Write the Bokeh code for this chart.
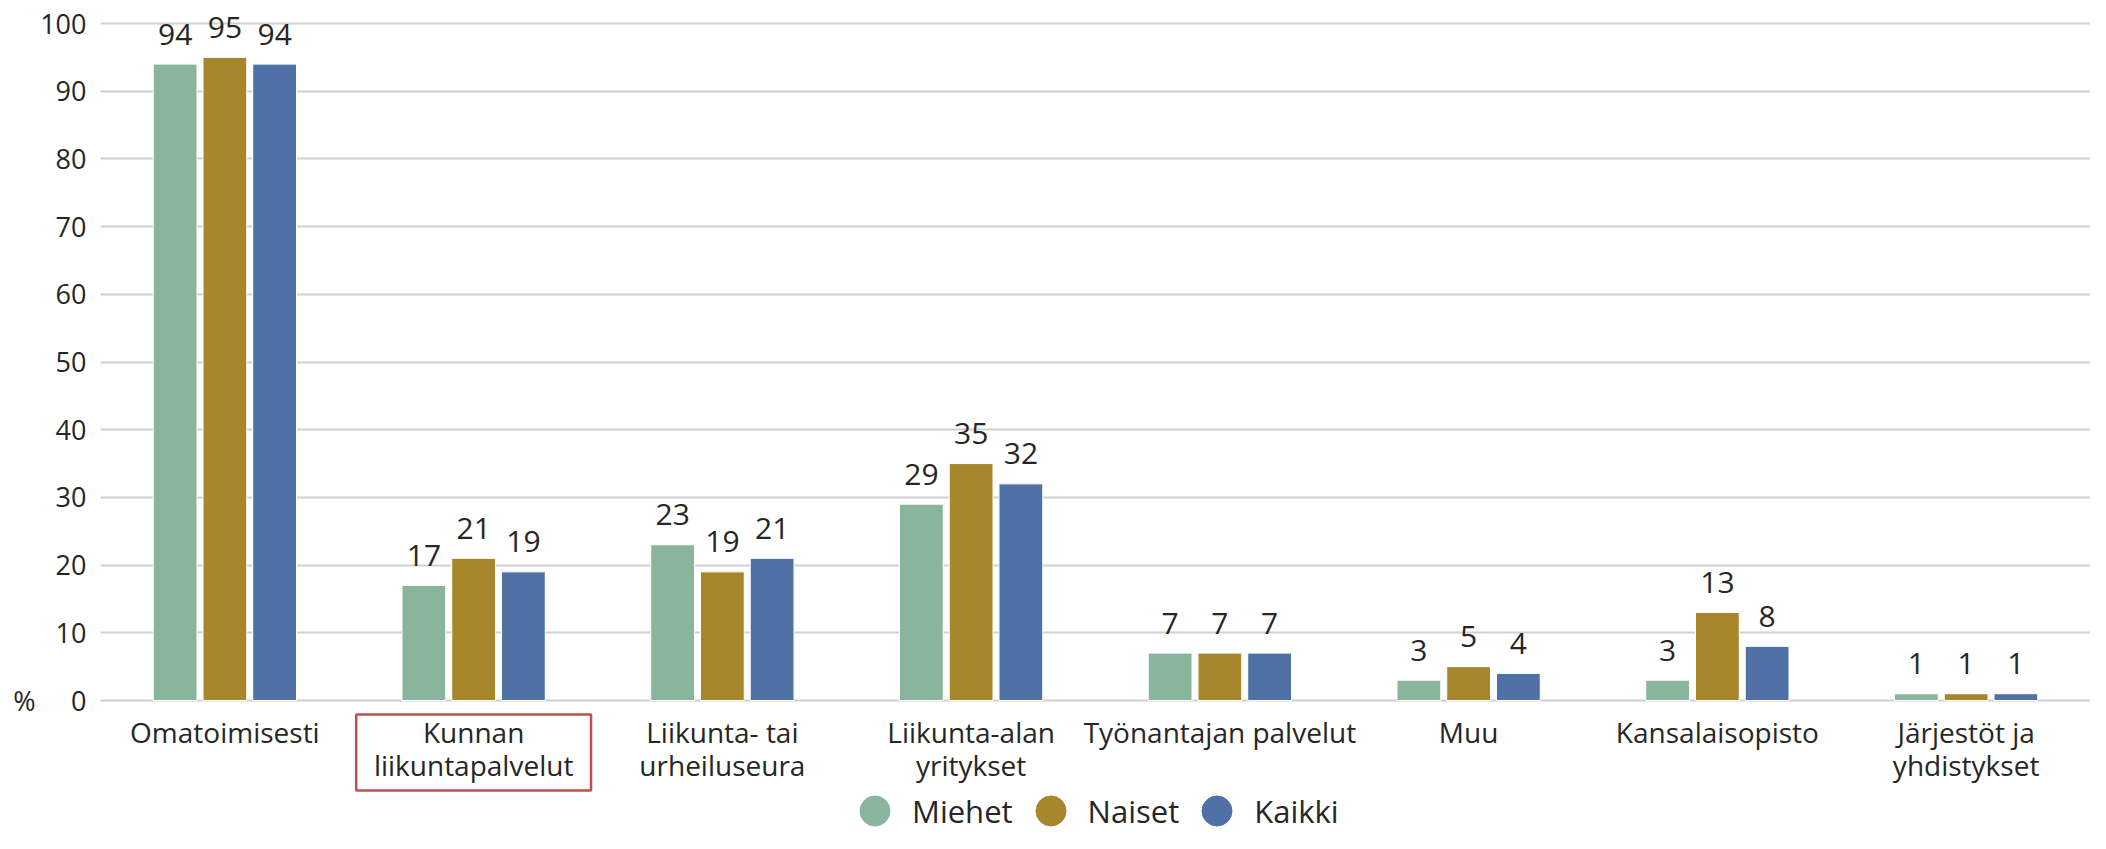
from bokeh.plotting import figure
from bokeh.models import Range1d, FixedTicker, ColumnDataSource, Legend, LegendItem, FactorRange, LinearAxis
from bokeh.core.properties import value
from bokeh.transform import dodge
from bokeh.embed import file_html
from bokeh.resources import INLINE

# ---------------- data ----------------
categories = ["Omatoimisesti", "Kunnan liikuntapalvelut", "Liikunta- tai urheiluseura",
              "Liikunta-alan yritykset", "Työnantajan palvelut", "Muu",
              "Kansalaisopisto", "Järjestöt ja yhdistykset"]
category_labels = ["Omatoimisesti", "Kunnan\nliikuntapalvelut", "Liikunta- tai\nurheiluseura",
                   "Liikunta-alan\nyritykset", "Työnantajan palvelut", "Muu",
                   "Kansalaisopisto", "Järjestöt ja\nyhdistykset"]
miehet = [94, 17, 23, 29, 7, 3, 3, 1]
naiset = [95, 21, 19, 35, 7, 5, 13, 1]
kaikki = [94, 19, 21, 32, 7, 4, 8, 1]
series_names = ["Miehet", "Naiset", "Kaikki"]
y_ticks = [0, 10, 20, 30, 40, 50, 60, 70, 80, 90, 100]
y_unit_label = "%"
highlighted = "Kunnan liikuntapalvelut"

# ---------------- style ----------------
colors = ["#8AB59D", "#A8862C", "#4F71A5"]
FONT = "Open Sans"
TEXT_COLOR = "#262626"
W, H = 2090, 833
LEFT = 100
ZERO_PX = 700          # y=0 position from top of canvas
TOP_PX = 23            # y=100 position from top of canvas
PX_PER_UNIT = (ZERO_PX - TOP_PX) / 100.0
y_end = 100 + TOP_PX / PX_PER_UNIT
y_start = -(H - ZERO_PX) / PX_PER_UNIT

def px_below_zero(px):
    return -px / PX_PER_UNIT

src = ColumnDataSource(dict(
    cat=categories, lab=category_labels,
    Miehet=miehet, Naiset=naiset, Kaikki=kaikki,
    Miehet_t=[str(v) for v in miehet], Naiset_t=[str(v) for v in naiset], Kaikki_t=[str(v) for v in kaikki],
))

p = figure(width=W, height=H, x_range=FactorRange(*categories, range_padding=0),
           y_range=Range1d(y_start, y_end), output_backend="svg", toolbar_location=None,
           x_axis_location=None, min_border_left=LEFT, min_border_right=0,
           min_border_top=0, min_border_bottom=0)
p.outline_line_color = None
p.background_fill_color = "white"
p.xgrid.visible = False

offsets = [-0.2, 0.0, 0.2]
for name, col, off in zip(series_names, colors, offsets):
    p.vbar(x=dodge("cat", off, range=p.x_range), top=name, width=0.176, source=src,
           fill_color=col, line_color="white", line_width=1)
    p.text(x=dodge("cat", off, range=p.x_range), y=name, text=name + "_t", source=src,
           text_align="center", text_baseline="alphabetic", y_offset=-30,
           text_font=value(FONT), text_font_size="30px", text_color=TEXT_COLOR)

# category labels under the baseline
p.text(x="cat", y=0, text="lab", source=src, text_align="center", text_baseline="top",
       y_offset=12, text_font=value(FONT), text_font_size="28px", text_color=TEXT_COLOR,
       text_line_height=0.875)

# highlight box around a category label
box_top, box_bottom = px_below_zero(14), px_below_zero(90)
p.rect(x=[highlighted], y=[(box_top + box_bottom) / 2], width=0.944, height=box_top - box_bottom,
       fill_color=None, line_color="#C0504D", line_width=2.5)

# y axis
p.yaxis.ticker = FixedTicker(ticks=y_ticks)
p.yaxis.axis_line_color = None
p.yaxis.major_tick_line_color = None
p.yaxis.minor_tick_line_color = None
p.yaxis.major_tick_out = 0
p.yaxis.major_label_standoff = 14
p.yaxis.major_label_text_font = FONT
p.yaxis.major_label_text_font_size = "27px"
p.yaxis.major_label_text_color = TEXT_COLOR
p.ygrid.ticker = FixedTicker(ticks=y_ticks)
p.ygrid.grid_line_color = "#D0D0D0"
p.ygrid.grid_line_width = 2

# unit label "%" as an outer axis with a single tick at 0
unit_axis = LinearAxis(ticker=FixedTicker(ticks=[0]), major_label_overrides={0: y_unit_label},
                       axis_line_color=None, major_tick_line_color=None, minor_tick_line_color=None,
                       major_tick_out=0, major_label_standoff=2, major_label_text_font=FONT,
                       major_label_text_font_size="27px", major_label_text_color=TEXT_COLOR)
p.add_layout(unit_axis, "left")

# legend with circle markers
legend_items = []
for name, col, off in zip(series_names, colors, offsets):
    r = p.scatter(x=dodge("cat", off, range=p.x_range), y=name, source=src, marker="circle",
                  size=30, fill_color=col, line_color=col, visible=False)
    legend_items.append(LegendItem(label=name, renderers=[r]))
legend = Legend(items=legend_items, orientation="horizontal", location=(737, -15),
                glyph_width=75, glyph_height=75, label_standoff=0, spacing=0,
                padding=0, margin=0, border_line_color=None, background_fill_alpha=0,
                inactive_fill_alpha=0,
                label_text_font=FONT, label_text_font_size="31px", label_text_color=TEXT_COLOR)
p.add_layout(legend)

open("out.html", "w").write(file_html(p, INLINE))
